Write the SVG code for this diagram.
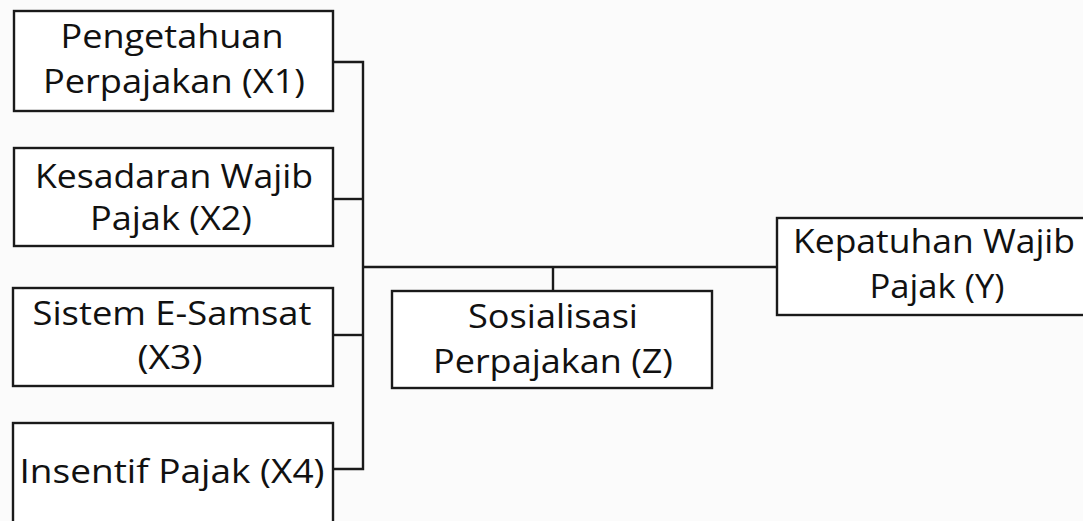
<svg xmlns="http://www.w3.org/2000/svg" width="1083" height="521" viewBox="0 0 1083 521">
<style>
.box{fill:#fff;stroke:#1a1a1a;stroke-width:2.4}
.t{font-family:"Open Sans","Liberation Sans",sans-serif;font-size:33px;fill:#111;text-anchor:middle}
.c{fill:none;stroke:#1a1a1a;stroke-width:2.4}
</style>
<rect width="1083" height="521" fill="#fbfbfb"/>
<g id="connectors">
<polyline class="c" points="333,62 363,62 363,469 333,469"/>
<line class="c" x1="333" y1="199" x2="363" y2="199"/>
<line class="c" x1="333" y1="335" x2="363" y2="335"/>
<line class="c" x1="363" y1="267" x2="777" y2="267"/>
<line class="c" x1="553" y1="267" x2="553" y2="291"/>
</g>
<g id="x1">
<rect class="box" x="14" y="11" width="319" height="100"/>
<text class="t" x="172" y="48" textLength="223" lengthAdjust="spacingAndGlyphs">Pengetahuan</text>
<text class="t" x="174" y="93" textLength="262" lengthAdjust="spacingAndGlyphs">Perpajakan (X1)</text>
</g>
<g id="x2">
<rect class="box" x="14" y="148" width="319" height="98"/>
<text class="t" x="174" y="188" textLength="278" lengthAdjust="spacingAndGlyphs">Kesadaran Wajib</text>
<text class="t" x="171" y="230" textLength="162" lengthAdjust="spacingAndGlyphs">Pajak (X2)</text>
</g>
<g id="x3">
<rect class="box" x="13" y="288" width="320" height="98"/>
<text class="t" x="172" y="325" textLength="279" lengthAdjust="spacingAndGlyphs">Sistem E-Samsat</text>
<text class="t" x="170" y="369" textLength="65" lengthAdjust="spacingAndGlyphs">(X3)</text>
</g>
<g id="x4">
<rect class="box" x="13" y="423" width="320" height="110"/>
<text class="t" x="172" y="483" textLength="305" lengthAdjust="spacingAndGlyphs">Insentif Pajak (X4)</text>
</g>
<g id="z">
<rect class="box" x="392" y="291" width="320" height="97"/>
<text class="t" x="553" y="328" textLength="170" lengthAdjust="spacingAndGlyphs">Sosialisasi</text>
<text class="t" x="553" y="373" textLength="240" lengthAdjust="spacingAndGlyphs">Perpajakan (Z)</text>
</g>
<g id="y">
<rect class="box" x="777" y="218" width="320" height="97"/>
<text class="t" x="934" y="253" textLength="282" lengthAdjust="spacingAndGlyphs">Kepatuhan Wajib</text>
<text class="t" x="937" y="298" textLength="135" lengthAdjust="spacingAndGlyphs">Pajak (Y)</text>
</g>
</svg>
